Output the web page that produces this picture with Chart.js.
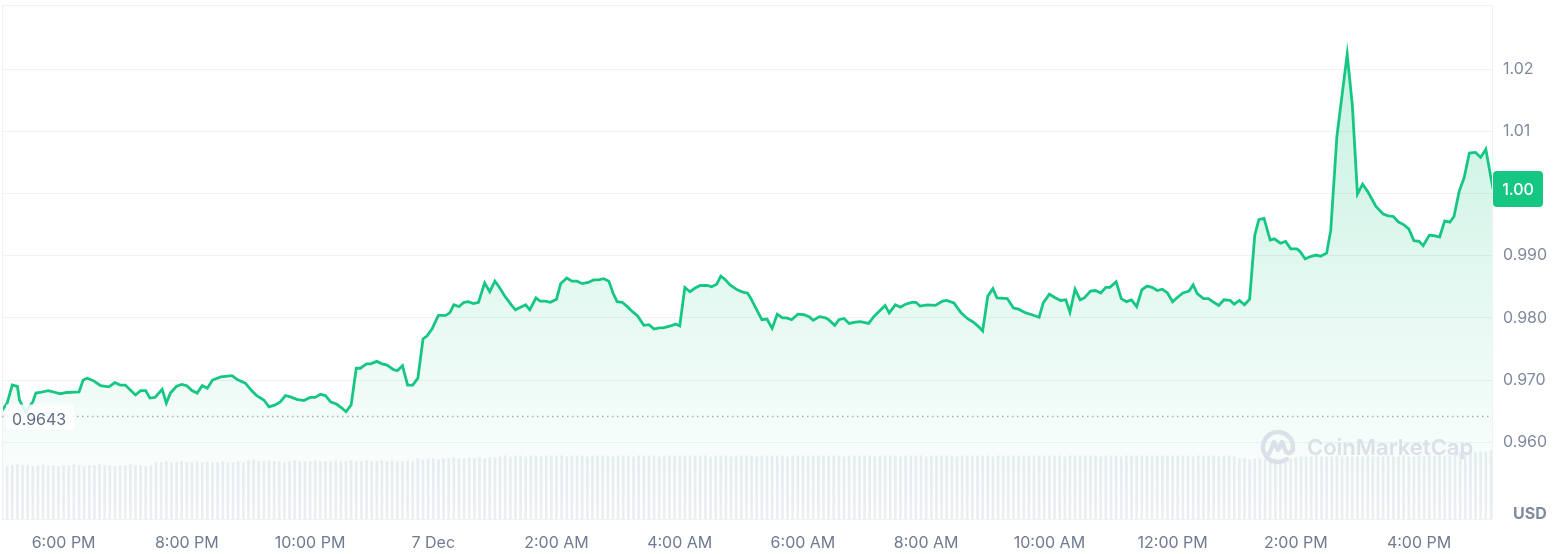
<!DOCTYPE html>
<html>
<head>
<meta charset="utf-8">
<script src="https://cdn.jsdelivr.net/npm/chart.js@4.4.1/dist/chart.umd.min.js"></script>
<style>
html, body { margin: 0; padding: 0; background: #fff; }
#wrap { width: 1560px; height: 554px; position: relative; }
</style>
</head>
<body>
<div id="wrap"><canvas id="priceChart"></canvas></div>
<script>
// minutes after 17:00 (6 Dec)
const priceTimes = [
  0, 5, 10, 15, 17, 23, 30, 33, 37, 45,
  57, 63, 75, 79, 83, 89, 96, 104, 110, 115,
  120, 125, 130, 135, 140, 144, 149, 156, 160, 164,
  170, 175, 180, 185, 190, 195, 200, 205, 213, 224,
  229, 237, 243, 248, 255, 260, 266, 271, 276, 281,
  287, 294, 300, 305, 310, 315, 320, 326, 331, 335,
  340, 345, 349, 355, 359, 365, 370, 375, 381, 385,
  390, 395, 400, 405, 410, 414, 419, 425, 432, 436,
  440, 445, 450, 454, 459, 464, 470, 475, 480, 484,
  490, 496, 500, 505, 510, 514, 520, 524, 529, 534,
  540, 544, 550, 555, 560, 565, 571, 576, 581, 586,
  591, 595, 599, 604, 609, 614, 619, 625, 630, 635,
  640, 644, 651, 656, 660, 665, 670, 675, 680, 687,
  691, 696, 700, 704, 709, 716, 722, 726, 729, 734,
  740, 745, 750, 755, 760, 764, 769, 775, 781, 786,
  790, 796, 802, 805, 811, 815, 820, 825, 831, 836,
  844, 849, 855, 860, 864, 870, 875, 880, 886, 890,
  894, 901, 909, 916, 920, 927, 934, 940, 946, 951,
  955, 960, 965, 969, 979, 985, 990, 997, 1003, 1010,
  1014, 1020, 1026, 1031, 1036, 1040, 1045, 1050, 1054, 1060,
  1065, 1070, 1075, 1079, 1085, 1090, 1095, 1100, 1105, 1110,
  1115, 1120, 1125, 1130, 1135, 1140, 1144, 1150, 1156, 1160,
  1164, 1170, 1175, 1180, 1185, 1190, 1196, 1200, 1205, 1210,
  1215, 1220, 1224, 1229, 1235, 1239, 1245, 1250, 1255, 1261,
  1264, 1269, 1275, 1280, 1284, 1290, 1294, 1300, 1310, 1315,
  1320, 1325, 1330, 1338, 1345, 1350, 1355, 1360, 1365, 1370,
  1375, 1380, 1384, 1390, 1395, 1400, 1405, 1410, 1414, 1419,
  1424, 1429, 1435, 1440, 1445, 1452
];
const prices = [
  0.9651, 0.9663, 0.9692, 0.9690, 0.9668, 0.9649, 0.9665, 0.9679, 0.9680, 0.9683,
  0.9678, 0.9680, 0.9681, 0.9700, 0.9703, 0.9699, 0.9691, 0.9689, 0.9696, 0.9692,
  0.9692, 0.9684, 0.9676, 0.9683, 0.9683, 0.9671, 0.9672, 0.9685, 0.9663, 0.9679,
  0.9690, 0.9693, 0.9691, 0.9683, 0.9679, 0.9691, 0.9687, 0.9700, 0.9705, 0.9707,
  0.9701, 0.9695, 0.9683, 0.9675, 0.9668, 0.9657, 0.9660, 0.9665, 0.9675, 0.9673,
  0.9669, 0.9667, 0.9672, 0.9672, 0.9677, 0.9675, 0.9665, 0.9661, 0.9655, 0.9649,
  0.9660, 0.9719, 0.9719, 0.9726, 0.9726, 0.9730, 0.9726, 0.9724, 0.9717, 0.9715,
  0.9723, 0.9692, 0.9692, 0.9703, 0.9766, 0.9771, 0.9783, 0.9804, 0.9804, 0.9808,
  0.9821, 0.9818, 0.9825, 0.9826, 0.9823, 0.9825, 0.9856, 0.9842, 0.9859, 0.9850,
  0.9834, 0.9821, 0.9813, 0.9817, 0.9821, 0.9813, 0.9832, 0.9827, 0.9827, 0.9825,
  0.9830, 0.9855, 0.9864, 0.9859, 0.9859, 0.9855, 0.9857, 0.9861, 0.9861, 0.9863,
  0.9859, 0.9840, 0.9826, 0.9825, 0.9818, 0.9810, 0.9803, 0.9788, 0.9789, 0.9782,
  0.9784, 0.9784, 0.9787, 0.9790, 0.9787, 0.9849, 0.9842, 0.9848, 0.9852, 0.9852,
  0.9850, 0.9854, 0.9867, 0.9862, 0.9853, 0.9845, 0.9841, 0.9840, 0.9832, 0.9816,
  0.9797, 0.9798, 0.9783, 0.9806, 0.9800, 0.9800, 0.9797, 0.9806, 0.9805, 0.9802,
  0.9796, 0.9802, 0.9800, 0.9797, 0.9788, 0.9797, 0.9799, 0.9791, 0.9793, 0.9794,
  0.9791, 0.9802, 0.9812, 0.9820, 0.9808, 0.9821, 0.9817, 0.9822, 0.9825, 0.9825,
  0.9819, 0.9821, 0.9820, 0.9827, 0.9828, 0.9824, 0.9808, 0.9799, 0.9793, 0.9786,
  0.9779, 0.9835, 0.9847, 0.9832, 0.9831, 0.9816, 0.9814, 0.9808, 0.9805, 0.9801,
  0.9824, 0.9838, 0.9832, 0.9828, 0.9829, 0.9809, 0.9846, 0.9829, 0.9832, 0.9843,
  0.9844, 0.9840, 0.9849, 0.9849, 0.9858, 0.9831, 0.9826, 0.9829, 0.9818, 0.9845,
  0.9851, 0.9849, 0.9844, 0.9846, 0.9840, 0.9826, 0.9832, 0.9840, 0.9843, 0.9853,
  0.9839, 0.9831, 0.9831, 0.9825, 0.9820, 0.9829, 0.9828, 0.9822, 0.9828, 0.9821,
  0.9830, 0.9933, 0.9958, 0.9960, 0.9925, 0.9927, 0.9920, 0.9923, 0.9911, 0.9911,
  0.9907, 0.9895, 0.9899, 0.9901, 0.9899, 0.9904, 0.9941, 1.0092, 1.0224, 1.0142,
  0.9999, 1.0015, 1.0003, 0.9979, 0.9967, 0.9964, 0.9963, 0.9954, 0.9950, 0.9943,
  0.9924, 0.9923, 0.9916, 0.9933, 0.9932, 0.9930, 0.9956, 0.9954, 0.9963, 1.0003,
  1.0026, 1.0065, 1.0066, 1.0058, 1.0071, 1.0007
];
// volume per 5 minute slot (millions), from 17:00
const volumes = [
  56, 55, 56, 57, 56, 56, 55, 56, 57, 56, 56, 55,
  56, 56, 57, 56, 55, 56, 56, 57, 56, 56, 55, 56,
  56, 57, 56, 56, 55, 56, 59, 59, 60, 59, 59, 60,
  59, 59, 60, 59, 60, 59, 59, 60, 59, 59, 60, 59,
  61, 62, 60, 60, 61, 60, 60, 59, 60, 61, 60, 60,
  60, 61, 60, 60, 60, 61, 60, 60, 61, 60, 60, 61,
  60, 60, 61, 60, 61, 60, 60, 61, 60, 63, 62, 63,
  63, 62, 63, 63, 64, 63, 63, 64, 63, 64, 63, 64,
  64, 65, 66, 65, 66, 66, 65, 66, 66, 65, 66, 66,
  66, 66, 65, 66, 66, 66, 65, 66, 66, 66, 66, 65,
  66, 66, 66, 65, 66, 66, 66, 66, 65, 66, 66, 66,
  65, 66, 66, 66, 66, 66, 65, 66, 66, 66, 65, 66,
  66, 66, 66, 65, 66, 66, 66, 66, 66, 65, 66, 66,
  66, 65, 66, 66, 66, 66, 66, 66, 65, 66, 66, 66,
  66, 66, 65, 66, 66, 66, 66, 65, 66, 66, 66, 66,
  65, 66, 66, 66, 66, 66, 65, 66, 66, 66, 66, 66,
  66, 65, 66, 66, 66, 66, 66, 65, 66, 66, 66, 66,
  66, 66, 66, 65, 66, 66, 66, 66, 66, 66, 65, 66,
  66, 66, 65, 66, 66, 66, 66, 66, 65, 66, 66, 66,
  66, 66, 66, 66, 65, 66, 66, 66, 66, 65, 66, 66,
  65, 63, 63, 62, 63, 63, 62, 63, 63, 62, 63, 63,
  64, 65, 65, 65, 66, 65, 65, 65, 66, 65, 65, 65,
  65, 65, 66, 65, 65, 65, 66, 65, 65, 66, 65, 65,
  66, 65, 66, 66, 66, 66, 66, 69, 70, 70, 70, 70,
  70, 70, 71
];
const priceTicks = [0.96, 0.97, 0.98, 0.99, 1.00, 1.01, 1.02];
const timeTicks = [60, 180, 300, 420, 540, 660, 780, 900, 1020, 1140, 1260, 1380];
const timeLabels = ['6:00 PM', '8:00 PM', '10:00 PM', '7 Dec', '2:00 AM', '4:00 AM',
  '6:00 AM', '8:00 AM', '10:00 AM', '12:00 PM', '2:00 PM', '4:00 PM'];
const openPrice = 0.9643;

const green = '#16c784';

const decor = {
  id: 'decor',
  afterDatasetsDraw(chart) {
    const { ctx, chartArea: a, scales } = chart;
    const y = scales.y;
    ctx.save();

    // frame
    ctx.strokeStyle = '#eff2f5';
    ctx.lineWidth = 1;
    ctx.strokeRect(a.left + 0.5, a.top + 0.5, a.right - a.left - 1, a.bottom - a.top - 1);

    // watermark
    const cx = a.right - 215, cy = 447;
    ctx.strokeStyle = '#dce0e8';
    ctx.lineWidth = 4.5;
    ctx.lineCap = 'round';
    ctx.lineJoin = 'round';
    ctx.beginPath();
    ctx.arc(cx, cy, 15, 0.3 * Math.PI, 2.05 * Math.PI);
    ctx.stroke();
    ctx.beginPath();
    ctx.moveTo(cx - 9, cy + 7);
    ctx.lineTo(cx - 4, cy - 5);
    ctx.lineTo(cx, cy + 3);
    ctx.lineTo(cx + 4, cy - 5);
    ctx.lineTo(cx + 8, cy + 5);
    ctx.quadraticCurveTo(cx + 11, cy + 8, cx + 15, cy + 3);
    ctx.stroke();
    ctx.fillStyle = '#dce0e8';
    ctx.font = '600 22px Inter';
    ctx.textBaseline = 'middle';
    ctx.textAlign = 'left';
    ctx.fillText('CoinMarketCap', cx + 29, cy + 1);

    // opening price line
    const oy = Math.round(y.getPixelForValue(openPrice)) + 0.5;
    ctx.setLineDash([1.5, 3.5]);
    ctx.lineCap = 'butt';
    ctx.strokeStyle = '#a3acbd';
    ctx.lineWidth = 1.5;
    ctx.beginPath();
    ctx.moveTo(a.left, oy);
    ctx.lineTo(a.right - 2, oy);
    ctx.stroke();
    ctx.setLineDash([]);
    ctx.fillStyle = 'rgba(255,255,255,0.85)';
    ctx.fillRect(a.left + 4, oy - 12, 68, 25);
    ctx.font = '16px Inter';
    ctx.fillStyle = '#616e85';
    ctx.fillText(openPrice.toFixed(4), a.left + 10, oy + 4);

    // current price badge
    const last = prices[prices.length - 1];
    const by = y.getPixelForValue(last);
    ctx.fillStyle = green;
    ctx.beginPath();
    ctx.roundRect(a.right, by - 18, 50, 36, 4);
    ctx.fill();
    ctx.fillStyle = '#ffffff';
    ctx.font = '500 16px Inter';
    ctx.textAlign = 'center';
    ctx.fillText(last.toFixed(2), a.right + 25, by + 1);

    // unit
    ctx.fillStyle = '#808a9d';
    ctx.font = 'bold 16px Inter';
    ctx.textAlign = 'left';
    ctx.fillText('USD', a.right + 20, 514);
    ctx.restore();
  }
};

const ctx = document.getElementById('priceChart').getContext('2d');
new Chart(ctx, {
  data: {
    datasets: [{
      type: 'line',
      data: priceTimes.map((t, i) => ({ x: t, y: prices[i] })),
      borderColor: green,
      borderWidth: 2.8,
      pointRadius: 0,
      tension: 0,
      fill: 'start',
      backgroundColor: (context) => {
        const { ctx, chartArea } = context.chart;
        if (!chartArea) return 'rgba(22,199,132,0.1)';
        const g = ctx.createLinearGradient(0, 50, 0, chartArea.bottom);
        g.addColorStop(0, 'rgba(22,199,132,0.24)');
        g.addColorStop(1, 'rgba(22,199,132,0)');
        return g;
      },
      yAxisID: 'y'
    }, {
      type: 'bar',
      data: volumes.map((v, i) => ({ x: i * 5, y: v })),
      backgroundColor: '#eceef3',
      barThickness: 2,
      yAxisID: 'yv'
    }]
  },
  options: {
    responsive: true,
    maintainAspectRatio: false,
    animation: false,
    layout: { padding: { top: 5, left: 2, right: 0, bottom: 0 } },
    plugins: { legend: { display: false }, tooltip: { enabled: false } },
    scales: {
      x: {
        type: 'linear',
        offset: false,
        min: 0,
        max: 1452,
        afterBuildTicks: (axis) => { axis.ticks = timeTicks.map(v => ({ value: v })); },
        afterFit: (axis) => {
          axis.height = 34;
          axis.paddingLeft = 0;
          axis.paddingRight = 0;
        },
        grid: { display: false, drawTicks: false, offset: false },
        border: { display: false },
        ticks: {
          padding: 14,
          maxRotation: 0,
          autoSkip: false,
          color: '#6f7b91',
          font: { family: 'Inter', size: 16 },
          callback: (value, index) => timeLabels[index]
        }
      },
      y: {
        position: 'right',
        min: 0.9475,
        max: 1.0303,
        afterBuildTicks: (axis) => { axis.ticks = priceTicks.map(v => ({ value: v })); },
        afterFit: (axis) => {
          axis.width = 67;
          axis.paddingTop = 0;
          axis.paddingBottom = 0;
        },
        grid: { color: '#eff2f5', drawTicks: false },
        border: { display: false },
        ticks: {
          padding: 10,
          color: '#808a9d',
          font: { family: 'Inter', size: 16 },
          callback: (v) => v >= 1 ? v.toFixed(2) : v.toFixed(3)
        }
      },
      yv: {
        display: false,
        min: 0,
        max: 530
      }
    }
  },
  plugins: [decor]
});
</script>
</body>
</html>
